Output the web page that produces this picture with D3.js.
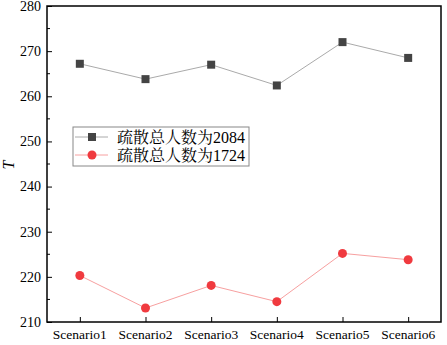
<!DOCTYPE html>
<html>
<head>
<meta charset="utf-8">
<script src="https://cdn.jsdelivr.net/npm/d3@7"></script>
<style>
  body { margin: 0; background: #fff; }
</style>
</head>
<body>
<script>
let scenarios = ['Scenario1', 'Scenario2', 'Scenario3', 'Scenario4', 'Scenario5', 'Scenario6']
let total2084 = [267.2, 263.8, 267.0, 262.4, 272.0, 268.5]
let total1724 = [220.3, 213.1, 218.1, 214.5, 225.2, 223.8]
let yTicks = [210, 220, 230, 240, 250, 260, 270, 280]
let seriesNames = ['疏散总人数为2084', '疏散总人数为1724']

let serif = "'Liberation Serif', 'Noto Serif CJK SC', serif"

let width = 447, height = 345
let margin = {left: 47, right: 6, top: 6, bottom: 23}

let svg = d3.select('body')
  .append('svg')
  .attr('width', width)
  .attr('height', height)
  .style('font-family', serif)

let scaleX = d3.scalePoint()
  .domain(scenarios)
  .range([margin.left, width - margin.right])
  .padding(0.5)

let scaleY = d3.scaleLinear()
  .domain([210, 280])
  .range([height - margin.bottom, margin.top])

// frame
svg.append('rect')
  .attr('x', margin.left)
  .attr('y', margin.top)
  .attr('width', width - margin.right - margin.left)
  .attr('height', height - margin.bottom - margin.top)
  .attr('fill', 'none')
  .attr('stroke', 'black')
  .attr('stroke-width', 1.5)

// y axis, ticks pointing inward
let yAxis = d3.axisRight(scaleY)
  .tickValues(yTicks)
  .tickSize(5)
  .tickFormat('')
svg.append('g')
  .attr('transform', `translate(${margin.left},0)`)
  .call(yAxis)
  .call(g => g.select('.domain').remove())

let minorY = d3.range(215, 280, 10)
svg.append('g')
  .selectAll('line')
  .data(minorY)
  .enter()
  .append('line')
  .attr('x1', margin.left)
  .attr('x2', margin.left + 3)
  .attr('y1', d => scaleY(d))
  .attr('y2', d => scaleY(d))
  .attr('stroke', 'black')

svg.append('g')
  .selectAll('text')
  .data(yTicks)
  .enter()
  .append('text')
  .attr('x', margin.left - 6)
  .attr('y', d => scaleY(d))
  .attr('dy', '0.35em')
  .attr('text-anchor', 'end')
  .attr('font-size', 14)
  .style('font-family', serif)
  .text(d => d)

// x axis
let xAxis = d3.axisTop(scaleX).tickSize(5).tickFormat('')
svg.append('g')
  .attr('transform', `translate(0,${height - margin.bottom})`)
  .call(xAxis)
  .call(g => g.select('.domain').remove())

svg.append('g')
  .selectAll('text')
  .data(scenarios)
  .enter()
  .append('text')
  .attr('x', d => scaleX(d))
  .attr('y', height - margin.bottom + 17)
  .attr('text-anchor', 'middle')
  .attr('font-size', 13.5)
  .style('font-family', serif)
  .text(d => d)

// y title
svg.append('text')
  .attr('transform', 'translate(14,165) rotate(-90)')
  .attr('text-anchor', 'middle')
  .attr('font-size', 16)
  .attr('font-style', 'italic')
  .style('font-family', serif)
  .text('T')

let line = d3.line()
  .x((d, i) => scaleX(scenarios[i]))
  .y(d => scaleY(d))

svg.append('path')
  .datum(total2084)
  .attr('d', line)
  .attr('fill', 'none')
  .attr('stroke', '#aaaaaa')
  .attr('stroke-width', 1)

svg.append('path')
  .datum(total1724)
  .attr('d', line)
  .attr('fill', 'none')
  .attr('stroke', '#f7a0a0')
  .attr('stroke-width', 1)

svg.append('g')
  .selectAll('rect')
  .data(total2084)
  .enter()
  .append('rect')
  .attr('x', (d, i) => scaleX(scenarios[i]) - 4)
  .attr('y', d => scaleY(d) - 4)
  .attr('width', 8)
  .attr('height', 8)
  .attr('fill', '#444444')

svg.append('g')
  .selectAll('circle')
  .data(total1724)
  .enter()
  .append('circle')
  .attr('cx', (d, i) => scaleX(scenarios[i]))
  .attr('cy', d => scaleY(d))
  .attr('r', 4.5)
  .attr('fill', '#f03a3f')

// legend
let legend = svg.append('g').attr('transform', 'translate(73,127)')
legend.append('rect')
  .attr('width', 176)
  .attr('height', 39)
  .attr('fill', 'white')
  .attr('stroke', '#888')
  .attr('stroke-width', 1)

let legendRows = legend.selectAll('g')
  .data(seriesNames)
  .enter()
  .append('g')
  .attr('transform', (d, i) => `translate(0,${10 + i * 18})`)

legendRows.append('line')
  .attr('x1', 2).attr('x2', 35)
  .attr('stroke', (d, i) => i == 0 ? '#aaaaaa' : '#f7a0a0')

legendRows.filter((d, i) => i == 0).append('rect')
  .attr('x', 15).attr('y', -4).attr('width', 8).attr('height', 8)
  .attr('fill', '#444444')
legendRows.filter((d, i) => i == 1).append('circle')
  .attr('cx', 19).attr('r', 4.5)
  .attr('fill', '#f03a3f')

legendRows.append('text')
  .attr('x', 44)
  .attr('dy', '0.36em')
  .attr('font-size', 16)
  .style('font-family', serif)
  .text(d => d)
</script>
</body>
</html>
